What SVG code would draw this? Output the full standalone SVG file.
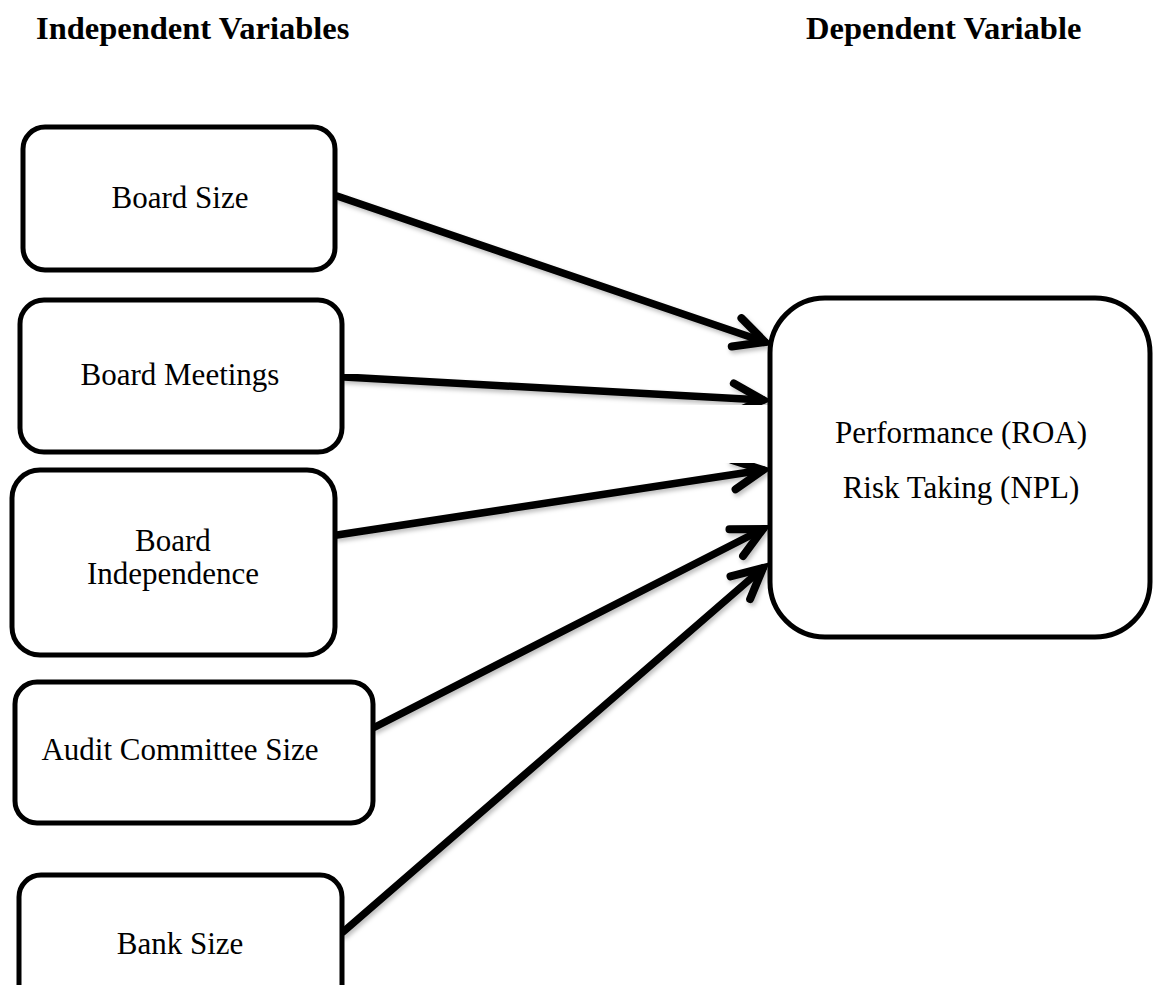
<svg xmlns="http://www.w3.org/2000/svg" width="1153" height="985" viewBox="0 0 1153 985">
  <style>
    .box { fill: #ffffff; stroke: #000000; stroke-width: 5; }
    .lbl { font-family: "Liberation Serif", "Times New Roman", serif; font-size: 31px; fill: #000; text-anchor: middle; }
    .hdr { font-family: "Liberation Serif", "Times New Roman", serif; font-size: 32.5px; font-weight: bold; fill: #000; }
    .arrow { stroke: #000; stroke-width: 7.5; fill: none; stroke-linecap: round; marker-end: url(#chev); filter: url(#sh); }
  </style>
  <defs>
    <marker id="chev" markerUnits="userSpaceOnUse" viewBox="-40 -25 50 50" refX="0" refY="0" markerWidth="50" markerHeight="50" orient="auto" overflow="visible">
      <path d="M -30 -15 L 0 0 L -30 15" fill="none" stroke="#000" stroke-width="8" stroke-linecap="round" stroke-linejoin="miter" stroke-miterlimit="4"/>
    </marker>
    <filter id="sh" x="-10%" y="-10%" width="120%" height="130%">
      <feDropShadow dx="2" dy="3" stdDeviation="2" flood-color="#000" flood-opacity="0.25"/>
    </filter>
  </defs>
  <rect width="1153" height="985" fill="#ffffff"/>

  <text class="hdr" x="36" y="39">Independent Variables</text>
  <text class="hdr" x="806" y="39">Dependent Variable</text>

  <g id="connectors">
    <line class="arrow" x1="337" y1="196" x2="765" y2="342"/>
    <line class="arrow" x1="344" y1="377" x2="763" y2="400"/>
    <line class="arrow" x1="337" y1="535" x2="763" y2="470"/>
    <line class="arrow" x1="375" y1="727" x2="763" y2="529"/>
    <line class="arrow" x1="343" y1="932" x2="763" y2="568"/>
  </g>

  <g id="board-size">
    <rect class="box" x="23" y="127" width="312" height="143" rx="22"/>
    <text class="lbl" x="180" y="208">Board Size</text>
  </g>
  <g id="board-meetings">
    <rect class="box" x="20" y="300" width="322" height="152" rx="24"/>
    <text class="lbl" x="180" y="385">Board Meetings</text>
  </g>
  <g id="board-independence">
    <rect class="box" x="12" y="470" width="323" height="185" rx="28"/>
    <text class="lbl" x="173" y="551">Board</text>
    <text class="lbl" x="173" y="584">Independence</text>
  </g>
  <g id="audit-committee-size">
    <rect class="box" x="15" y="682" width="358" height="141" rx="22"/>
    <text class="lbl" x="180" y="760">Audit Committee Size</text>
  </g>
  <g id="bank-size">
    <rect class="box" x="19" y="875" width="323" height="140" rx="22"/>
    <text class="lbl" x="180" y="954">Bank Size</text>
  </g>
  <g id="performance">
    <rect class="box" x="770" y="298" width="380" height="339" rx="55"/>
    <text class="lbl" x="961" y="443">Performance (ROA)</text>
    <text class="lbl" x="961" y="498">Risk Taking (NPL)</text>
  </g>
</svg>
